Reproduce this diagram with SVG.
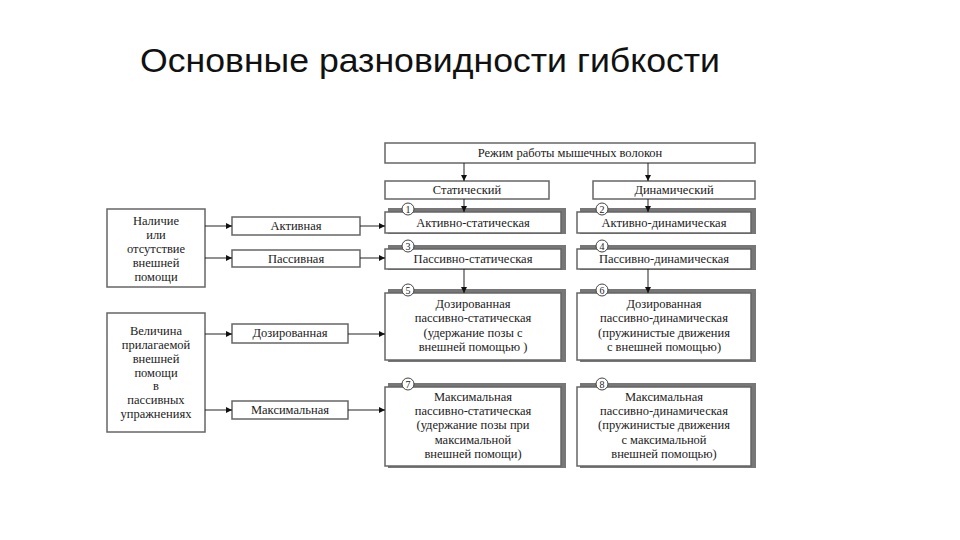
<svg xmlns="http://www.w3.org/2000/svg" width="960" height="540" viewBox="0 0 960 540">
<defs>
<marker id="ar" viewBox="0 0 10 10" refX="10" refY="5" markerWidth="6" markerHeight="6" orient="auto"><path d="M0,0 L10,5 L0,10 z" fill="#111"/></marker>
</defs>
<style>
.b{fill:#fff;stroke:#666;stroke-width:1.5}
.sh{fill:#777}
.t{font-family:"Liberation Serif",serif;font-size:12.5px;fill:#222;text-anchor:middle}
.c{fill:#fff;stroke:#444;stroke-width:1}
.n{font-family:"Liberation Serif",serif;font-size:10px;fill:#222;text-anchor:middle}
.l{stroke:#222;stroke-width:1;fill:none;marker-end:url(#ar)}
</style>
<rect width="960" height="540" fill="#fff"/>
<text x="140" y="72" font-family="Liberation Sans,sans-serif" font-size="34" fill="#111" textLength="580" lengthAdjust="spacingAndGlyphs">Основные разновидности гибкости</text>

<g id="top"><rect class="b" x="385" y="143" width="370" height="20"/><text class="t" x="570" y="157">Режим работы мышечных волокон</text></g>
<g id="stat"><rect class="b" x="385" y="181" width="164" height="18"/><text class="t" x="467" y="194">Статический</text></g>
<g id="dyn"><rect class="b" x="593" y="181" width="162" height="18"/><text class="t" x="674" y="194">Динамический</text></g>

<g id="n1"><rect class="sh" x="388" y="208" width="178" height="26"/><rect class="b" x="385" y="212" width="176" height="21"/><circle class="c" cx="408" cy="209" r="6"/><text class="n" x="408" y="213">1</text><text class="t" x="473" y="227">Активно-статическая</text></g>
<g id="n2"><rect class="sh" x="580" y="208" width="176" height="26"/><rect class="b" x="577" y="212" width="174" height="21"/><circle class="c" cx="602" cy="209" r="6"/><text class="n" x="602" y="213">2</text><text class="t" x="664" y="227">Активно-динамическая</text></g>
<g id="n3"><rect class="sh" x="388" y="245" width="178" height="25"/><rect class="b" x="385" y="249" width="176" height="20"/><circle class="c" cx="408" cy="246" r="6"/><text class="n" x="408" y="250">3</text><text class="t" x="473" y="263">Пассивно-статическая</text></g>
<g id="n4"><rect class="sh" x="580" y="245" width="176" height="25"/><rect class="b" x="577" y="249" width="174" height="20"/><circle class="c" cx="602" cy="246" r="6"/><text class="n" x="602" y="250">4</text><text class="t" x="664" y="263">Пассивно-динамическая</text></g>
<g id="n5"><rect class="sh" x="388" y="289" width="178" height="73"/><rect class="b" x="385" y="293" width="176" height="67"/><circle class="c" cx="408" cy="290" r="6"/><text class="n" x="408" y="294">5</text><text class="t" x="473" y="308">Дозированная</text><text class="t" x="473" y="322">пассивно-статическая</text><text class="t" x="473" y="337">(удержание позы с</text><text class="t" x="473" y="351">внешней помощью )</text></g>
<g id="n6"><rect class="sh" x="580" y="289" width="176" height="73"/><rect class="b" x="577" y="293" width="174" height="67"/><circle class="c" cx="602" cy="290" r="6"/><text class="n" x="602" y="294">6</text><text class="t" x="664" y="308">Дозированная</text><text class="t" x="664" y="322">пассивно-динамическая</text><text class="t" x="664" y="337">(пружинистые движения</text><text class="t" x="664" y="351">с внешней помощью)</text></g>
<g id="n7"><rect class="sh" x="388" y="383" width="178" height="85"/><rect class="b" x="385" y="387" width="176" height="79"/><circle class="c" cx="408" cy="384" r="6"/><text class="n" x="408" y="388">7</text><text class="t" x="473" y="401">Максимальная</text><text class="t" x="473" y="415">пассивно-статическая</text><text class="t" x="473" y="429">(удержание позы при</text><text class="t" x="473" y="444">максимальной</text><text class="t" x="473" y="458">внешней помощи)</text></g>
<g id="n8"><rect class="sh" x="580" y="383" width="176" height="85"/><rect class="b" x="577" y="387" width="174" height="79"/><circle class="c" cx="602" cy="384" r="6"/><text class="n" x="602" y="388">8</text><text class="t" x="664" y="401">Максимальная</text><text class="t" x="664" y="415">пассивно-динамическая</text><text class="t" x="664" y="429">(пружинистые движения</text><text class="t" x="664" y="444">с максимальной</text><text class="t" x="664" y="458">внешней помощью)</text></g>

<g id="left1"><rect class="b" x="107" y="209" width="98" height="78"/><text class="t" x="156" y="225">Наличие</text><text class="t" x="156" y="239">или</text><text class="t" x="156" y="253">отсутствие</text><text class="t" x="156" y="267">внешней</text><text class="t" x="156" y="281">помощи</text></g>
<g id="left2"><rect class="b" x="107" y="313" width="98" height="119"/><text class="t" x="156" y="335">Величина</text><text class="t" x="156" y="349">прилагаемой</text><text class="t" x="156" y="363">внешней</text><text class="t" x="156" y="377">помощи</text><text class="t" x="156" y="390">в</text><text class="t" x="156" y="404">пассивных</text><text class="t" x="156" y="418">упражнениях</text></g>
<g id="act"><rect class="b" x="232" y="217" width="128" height="18"/><text class="t" x="296" y="230">Активная</text></g>
<g id="pas"><rect class="b" x="232" y="250" width="128" height="17"/><text class="t" x="296" y="263">Пассивная</text></g>
<g id="doz"><rect class="b" x="232" y="324" width="116" height="19"/><text class="t" x="290" y="337">Дозированная</text></g>
<g id="max"><rect class="b" x="232" y="401" width="116" height="18"/><text class="t" x="290" y="414">Максимальная</text></g>

<g id="connectors">
<path class="l" d="M464,163 V181"/>
<path class="l" d="M648,163 V181"/>
<path class="l" d="M464,199 V212"/>
<path class="l" d="M648,199 V212"/>
<path class="l" d="M464,269 V293"/>
<path class="l" d="M648,269 V293"/>
<path class="l" d="M205,226 H232"/>
<path class="l" d="M205,258 H232"/>
<path class="l" d="M205,334 H232"/>
<path class="l" d="M205,410 H232"/>
<path class="l" d="M360,226 H385"/>
<path class="l" d="M360,258 H385"/>
<path class="l" d="M348,334 H385"/>
<path class="l" d="M348,410 H385"/>
</g>
</svg>
